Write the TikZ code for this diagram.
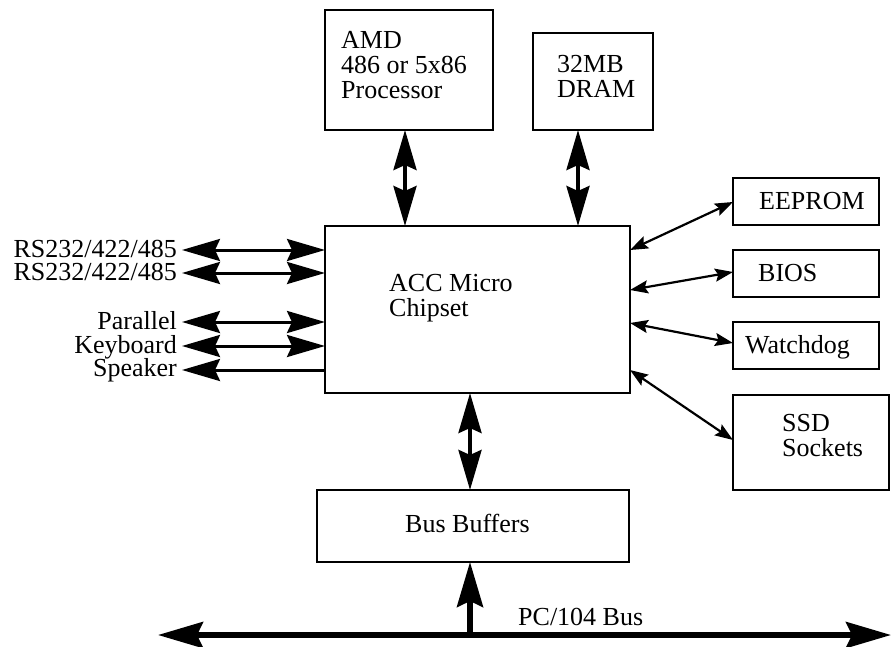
\documentclass[tikz,border=0pt]{standalone}
\usepackage{fontspec}
\setmainfont{Liberation Serif}
\usetikzlibrary{arrows.meta}
\begin{document}
\begin{tikzpicture}[x=1pt,y=-1pt,
  box/.style={draw,line width=2.8pt,inner sep=0pt,outer sep=0pt},
  txt/.style={inner sep=0pt,font=\fontsize{26}{25}\selectfont,align=left},
  bigarr/.style={line width=3pt,>={Stealth[length=38pt,width=22pt,inset=5pt]},<->},
  vert/.style={line width=4pt,>={Stealth[length=40pt,width=23pt,inset=5pt]},<->},
  bus/.style={line width=5.5pt,>={Stealth[length=45pt,width=26pt,inset=6pt]},<->},
  diag/.style={line width=2.2pt,>={Stealth[length=18pt,width=13pt,inset=3pt]},<->}]
\useasboundingbox (0,0) rectangle (891,647);

% boxes
\node[box,minimum width=168pt,minimum height=120pt] (amd) at (409,70) {};
\node[box,minimum width=120pt,minimum height=97pt] (dram) at (593,81.5) {};
\node[box,minimum width=305pt,minimum height=167pt] (chip) at (477.5,309.5) {};
\node[box,minimum width=146pt,minimum height=47pt] (eeprom) at (806,201.5) {};
\node[box,minimum width=146pt,minimum height=47pt] (bios) at (806,273.5) {};
\node[box,minimum width=146pt,minimum height=47pt] (wd) at (806,345.5) {};
\node[box,minimum width=156pt,minimum height=95pt] (ssd) at (811,442.5) {};
\node[box,minimum width=312pt,minimum height=72pt] (bb) at (473,526) {};

% box texts
\node[txt,anchor=west] (amdT) at (341,65.2) {AMD\\486 or 5x86\\Processor};
\node[txt,anchor=west] (dramT) at (557,76) {32MB\\DRAM};
\node[txt,anchor=west] (chipT) at (389,298) {ACC Micro\\Chipset};
\node[txt,anchor=west] (ssdT) at (782,436) {SSD\\Sockets};
\node[txt,anchor=base west] (eepromT) at (759,210) {EEPROM};
\node[txt,anchor=base west] (biosT) at (758,281.7) {BIOS};
\node[txt,anchor=base west] (wdT) at (745,353) {Watchdog};
\node[txt,anchor=base west] (bbT) at (405,532.7) {Bus Buffers};
\node[txt,anchor=base west] (busT) at (518,625) {PC/104 Bus};

% left labels
\node[txt,anchor=base east] (l1) at (177,257) {RS232/422/485};
\node[txt,anchor=base east] (l2) at (177,280.7) {RS232/422/485};
\node[txt,anchor=base east] (l3) at (177,329) {Parallel};
\node[txt,anchor=base east] (l4) at (177,353.3) {Keyboard};
\node[txt,anchor=base east] (l5) at (177,376.7) {Speaker};

% left arrow ends
\coordinate (a1) at (182,250);
\coordinate (a2) at (182,273);
\coordinate (a3) at (182,322);
\coordinate (a4) at (182,346);
\coordinate (a5) at (182,370);
\draw[bigarr] (a1) -- (a1 -| chip.west);
\draw[bigarr] (a2) -- (a2 -| chip.west);
\draw[bigarr] (a3) -- (a3 -| chip.west);
\draw[bigarr] (a4) -- (a4 -| chip.west);
\draw[bigarr,<-] (a5) -- (a5 -| chip.west);

% vertical arrows
\draw[vert] (amd.south -| 405,0) -- (chip.north -| 405,0);
\draw[vert] (dram.south -| 578,0) -- (chip.north -| 578,0);
\draw[vert] (chip.south -| 470,0) -- (bb.north -| 470,0);

% right diagonal arrows
\draw[diag] (chip.east |- 0,250) -- (eeprom.west |- 0,202);
\draw[diag] (chip.east |- 0,290) -- (bios.west |- 0,272);
\draw[diag] (chip.east |- 0,323) -- (wd.west |- 0,343);
\draw[diag] (chip.east |- 0,370) -- (ssd.west |- 0,440);

% bus
\coordinate (busL) at (158,635);
\coordinate (busR) at (891,635);
\coordinate (busJ) at (470,635);
\draw[bus] (busL) -- (busR);
\draw[bus,->] (busJ) -- (bb.south -| busJ);
\end{tikzpicture}
\end{document}
